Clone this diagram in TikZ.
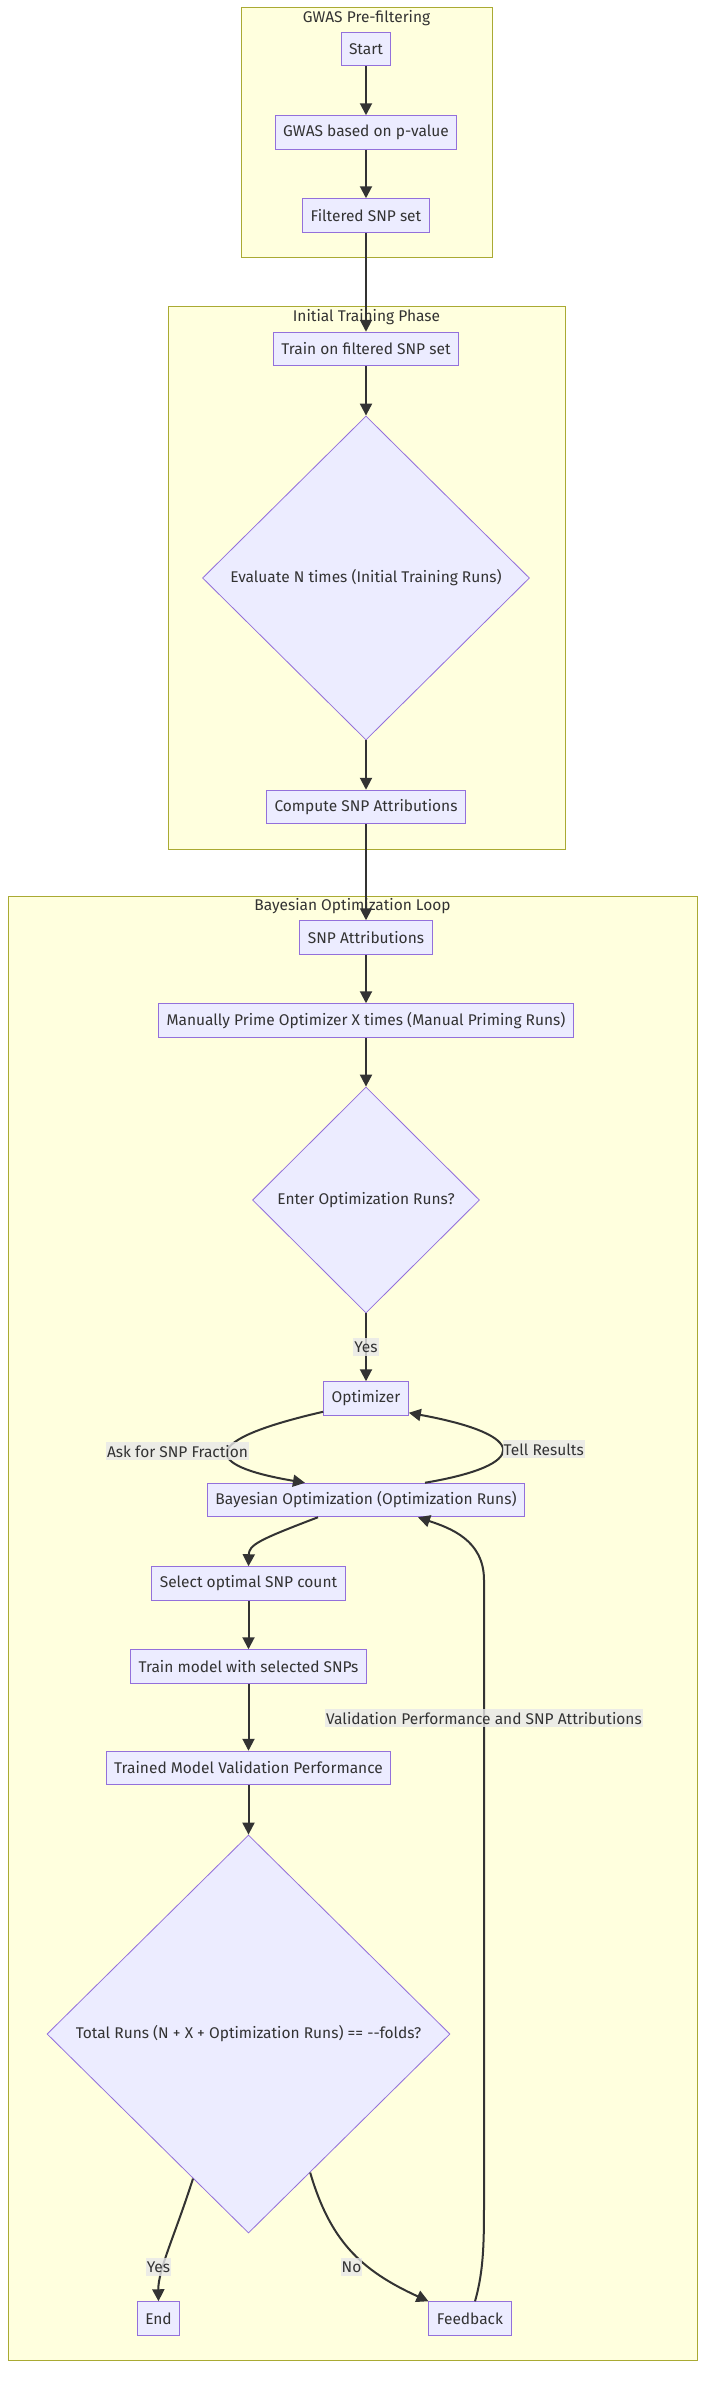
\documentclass[tikz,border=0pt]{standalone}
\usepackage{fontspec}
\setmainfont{Fira Sans}
\usetikzlibrary{shapes.geometric,arrows.meta}
\definecolor{nodefill}{HTML}{ECECFF}
\definecolor{nodedraw}{HTML}{9370DB}
\definecolor{clfill}{HTML}{FFFFDE}
\definecolor{cldraw}{HTML}{AAAA33}
\definecolor{edgec}{HTML}{333333}
\definecolor{txt}{HTML}{333333}
\definecolor{lblbg}{HTML}{E8E8E8}
\begin{document}
\begin{tikzpicture}[x=1pt,y=-1pt,
 font=\fontsize{15.5}{18}\selectfont, text=txt,
 box/.style={draw=nodedraw, fill=nodefill, line width=1pt, minimum height=33.5pt, inner xsep=8pt, inner ysep=0pt},
 dia/.style={diamond, draw=nodedraw, fill=nodefill, line width=0.8pt, inner sep=0pt},
 cluster/.style={draw=cldraw, fill=clfill, line width=1pt, inner sep=0pt},
 ctitle/.style={inner sep=0pt},
 edge/.style={draw=edgec, line width=2pt, -{Triangle[length=12pt,width=12pt]}},
 lbl/.style={fill=lblbg, fill opacity=0.8, text opacity=1, inner xsep=1pt, inner ysep=1pt, minimum height=18pt}
]
\fill[white] (0,0) rectangle (706,2393);
\useasboundingbox (0,0) rectangle (706,2393);

% clusters
\node[cluster, minimum width=251pt, minimum height=250pt] (cg) at (366.5,132) {};
\node[ctitle] (tg) at (366.5,18) {GWAS Pre-filtering};
\node[cluster, minimum width=397pt, minimum height=543pt] (ci) at (366.5,577.5) {};
\node[ctitle] (ti) at (366.5,317) {Initial Training Phase};
\node[cluster, minimum width=689pt, minimum height=1464pt] (cb) at (352.5,1628) {};
\node[ctitle] (tb) at (352.5,906) {Bayesian Optimization Loop};

% nodes
\node[box] (start) at (366,49) {Start};
\node[box] (gw) at (366,132.5) {GWAS based on p-value};
\node[box] (flt) at (366,215.5) {Filtered SNP set};
\node[box] (trn) at (366,349) {Train on filtered SNP set};
\node[dia, minimum width=327pt, minimum height=324pt] (eval) at (366,578) {Evaluate N times (Initial Training Runs)};
\node[box] (cmp) at (366,807) {Compute SNP Attributions};
\node[box] (att) at (366,937.5) {SNP Attributions};
\node[box] (man) at (366,1020.5) {Manually Prime Optimizer X times (Manual Priming Runs)};
\node[dia, minimum width=227pt, minimum height=226pt] (ent) at (366,1200) {Enter Optimization Runs?};
\node[box] (opt) at (366,1398.5) {Optimizer};
\node[box] (bo) at (366,1500) {Bayesian Optimization (Optimization Runs)};
\node[box] (sel) at (248.5,1583.5) {Select optimal SNP count};
\node[box] (tm) at (248.5,1666.5) {Train model with selected SNPs};
\node[box] (tv) at (248.5,1768) {Trained Model Validation Performance};
\node[dia, minimum width=403pt, minimum height=398pt] (tot) at (248.5,2034) {Total Runs (N + X + Optimization Runs) == -{}-folds?};
\node[box] (end) at (158.5,2318.5) {End};
\node[box] (fb) at (470,2318.5) {Feedback};

% edges
\draw[edge] (start) -- (gw);
\draw[edge] (gw) -- (flt);
\draw[edge] (flt) -- (trn);
\draw[edge] (trn) -- (eval);
\draw[edge] (eval) -- (cmp);
\draw[edge] (cmp) -- (att);
\draw[edge] (att) -- (man);
\draw[edge] (man) -- (ent);
\draw[edge] (ent) -- node[lbl] {Yes} (opt);
\draw[edge] ([yshift=4pt]opt.south west) .. controls (200,1440) and (200,1465) .. node[lbl,pos=0.5,xshift=-51pt] {Ask for SNP Fraction} ([xshift=98pt]bo.north west);
\draw[edge] ([xshift=59pt]bo.north) .. controls (530,1465) and (530,1435) .. node[lbl,pos=0.5,xshift=42pt] {Tell Results} ([yshift=3pt]opt.south east);
\draw[edge] ([xshift=-48pt]bo.south) .. controls (258,1540) and (249,1545) .. (sel.north);
\draw[edge] (sel) -- (tm);
\draw[edge] (tm) -- (tv);
\draw[edge] (tv) -- (tot);
\draw[edge] (tot.249) .. controls (175,2235) and (158,2270) .. node[lbl,pos=0.66,xshift=-5pt] {Yes} (end.north);
\draw[edge] (tot.294) .. controls (330,2240) and (360,2270) .. node[lbl,pos=0.65,xshift=-18pt] {No} (fb.north west);
\coordinate (fbA) at (484,2200);
\coordinate (fbB) at (484,1580);
\draw[edge] ([xshift=5pt]fb.north) .. controls (484,2270) and (484,2240) .. (fbA) -- node[lbl,pos=0.777] {Validation Performance and SNP Attributions} (fbB) .. controls (484,1540) and (450,1528) .. ([xshift=52pt]bo.south);
\end{tikzpicture}
\end{document}
